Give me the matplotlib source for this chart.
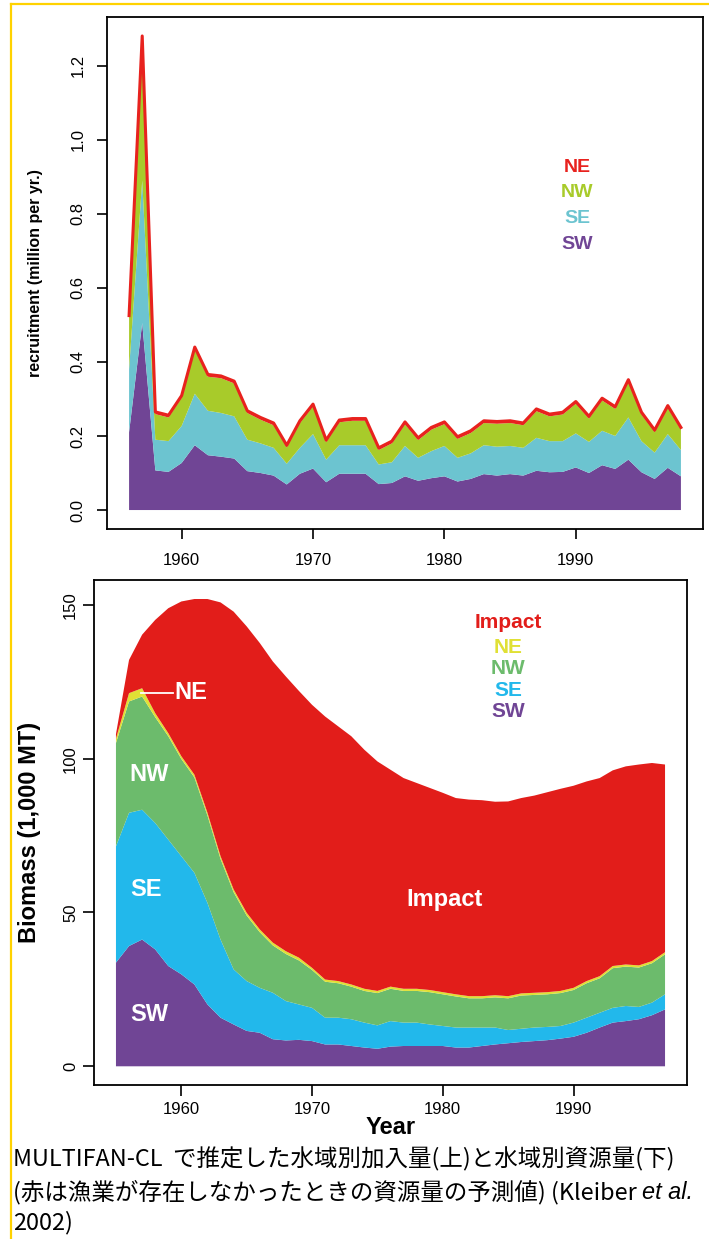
import numpy as np
import matplotlib
matplotlib.use('Agg')  # headless backend
import matplotlib.pyplot as plt
from matplotlib.lines import Line2D

plt.rcParams['font.family'] = ['Liberation Sans', 'Noto Sans CJK JP', 'DejaVu Sans']

# --- top panel: recruitment by region (million per yr.) ---
rec_years = list(range(1956, 1999))
rec_sw = [0.210, 0.505, 0.107, 0.103, 0.127, 0.175, 0.148, 0.144, 0.139, 0.105,
          0.100, 0.093, 0.069, 0.098, 0.112, 0.075, 0.098, 0.098, 0.098, 0.070,
          0.073, 0.091, 0.079, 0.086, 0.091, 0.077, 0.084, 0.097, 0.093, 0.097,
          0.093, 0.106, 0.102, 0.103, 0.115, 0.100, 0.121, 0.111, 0.136, 0.102,
          0.084, 0.114, 0.091]
rec_se = [0.170, 0.385, 0.083, 0.083, 0.100, 0.139, 0.120, 0.118, 0.114, 0.085,
          0.080, 0.075, 0.056, 0.070, 0.093, 0.061, 0.077, 0.077, 0.077, 0.053,
          0.056, 0.082, 0.062, 0.073, 0.082, 0.064, 0.069, 0.078, 0.078, 0.076,
          0.075, 0.089, 0.084, 0.083, 0.092, 0.084, 0.093, 0.089, 0.114, 0.084,
          0.071, 0.091, 0.071]
rec_nw = [0.139, 0.360, 0.069, 0.064, 0.076, 0.120, 0.092, 0.094, 0.089, 0.072,
          0.064, 0.061, 0.044, 0.067, 0.075, 0.047, 0.062, 0.066, 0.066, 0.039,
          0.051, 0.059, 0.048, 0.058, 0.059, 0.051, 0.055, 0.060, 0.062, 0.062,
          0.061, 0.072, 0.067, 0.072, 0.080, 0.063, 0.082, 0.073, 0.096, 0.072,
          0.055, 0.071, 0.055]
rec_ne = [0.006, 0.030, 0.006, 0.006, 0.006, 0.006, 0.006, 0.006, 0.006, 0.006,
          0.006, 0.006, 0.006, 0.006, 0.006, 0.006, 0.006, 0.006, 0.006, 0.006,
          0.006, 0.006, 0.006, 0.006, 0.006, 0.006, 0.006, 0.006, 0.006, 0.006,
          0.006, 0.006, 0.006, 0.006, 0.006, 0.006, 0.006, 0.006, 0.006, 0.006,
          0.006, 0.006, 0.006]
rec_labels = ['NE', 'NW', 'SE', 'SW']
rec_colors = {'SW': '#704595', 'SE': '#6CC4D0', 'NW': '#A8CB2A', 'NE': '#E8221E'}

# --- bottom panel: biomass by region (1,000 MT) ---
bio_years = list(range(1955, 1998))
bio_sw = [33.7, 39.1, 41.2, 38.0, 32.6, 29.9, 26.6, 20.1, 15.8, 13.6,
          11.5, 10.9, 8.8, 8.4, 8.6, 8.2, 7.1, 7.1, 6.6, 6.1,
          5.7, 6.4, 6.6, 6.6, 6.6, 6.6, 6.1, 6.1, 6.6, 7.1,
          7.5, 7.9, 8.2, 8.5, 9.0, 9.6, 10.9, 12.6, 14.2, 14.7,
          15.3, 16.6, 18.5]
bio_se = [37.8, 43.3, 42.2, 41.1, 41.1, 38.4, 36.3, 33.0, 25.4, 17.9,
          16.2, 14.6, 15.1, 12.8, 11.5, 10.8, 8.7, 8.7, 8.7, 8.1,
          7.6, 8.3, 7.6, 7.6, 7.0, 6.5, 6.5, 6.5, 6.0, 5.5,
          4.3, 4.3, 4.4, 4.3, 4.1, 4.6, 4.9, 4.8, 4.8, 4.9,
          4.0, 4.1, 4.9]
bio_nw = [33.6, 36.2, 36.8, 34.4, 33.6, 31.6, 31.0, 28.4, 26.2, 25.1,
          21.3, 18.1, 15.4, 15.3, 14.3, 12.3, 11.7, 11.2, 10.6, 10.3,
          10.5, 10.5, 10.3, 10.3, 10.5, 10.3, 10.1, 9.5, 9.5, 9.8,
          10.3, 10.8, 10.6, 10.6, 10.7, 10.6, 11.2, 11.2, 12.9, 12.8,
          12.8, 12.8, 13.0]
bio_ne = [1.4, 2.7, 2.7, 1.3, 1.0, 0.9, 0.9, 0.9, 0.9, 0.9,
          0.9, 0.9, 0.9, 0.9, 0.9, 0.7, 0.7, 0.7, 0.7, 0.7,
          0.7, 0.7, 0.7, 0.7, 0.7, 0.7, 0.7, 0.7, 0.7, 0.7,
          0.7, 0.7, 0.7, 0.7, 0.7, 0.7, 0.7, 0.7, 0.7, 0.7,
          0.7, 0.7, 0.7]
bio_impact = [1.5, 10.8, 17.4, 30.3, 40.6, 50.3, 57.1, 69.5, 82.5, 90.3,
              93.1, 93.1, 91.4, 89.3, 86.7, 85.5, 85.5, 82.8, 80.7, 77.7,
              74.6, 70.5, 68.5, 66.9, 65.7, 64.8, 63.8, 63.9, 63.7, 62.9,
              63.3, 63.5, 64.1, 65.0, 65.7, 65.7, 64.9, 64.4, 63.6, 64.4,
              65.3, 64.4, 61.0]
bio_labels = ['Impact', 'NE', 'NW', 'SE', 'SW']
bio_colors = {'SW': '#704595', 'SE': '#22B8EB', 'NW': '#6CBB6C',
              'NE': '#E0E035', 'Impact': '#E21D1A'}

caption1 = 'MULTIFAN-CL  で推定した水域別加入量(上)と水域別資源量(下)'
caption2a = '(赤は漁業が存在しなかったときの資源量の予測値) (Kleiber '
caption2b = 'et al.'
caption3 = '2002)'


def style_axes(ax, ticklen, ypad, xpad):
    for s in ax.spines.values():
        s.set_linewidth(1.3)
        s.set_color('black')
    ax.tick_params(direction='out', length=ticklen, width=1.2, labelsize=12)
    ax.tick_params(axis='y', pad=ypad)
    ax.tick_params(axis='x', pad=xpad)
    for lab in ax.get_yticklabels():
        lab.set_rotation(90)
        lab.set_va('center')


W, H = 709, 1239
fig = plt.figure(figsize=(W / 100, H / 100), dpi=100)
fig.patch.set_facecolor('white')

# top chart
ax1 = fig.add_axes([107 / W, 1 - 529 / H, 596 / W, 512 / H])
ax1.stackplot(rec_years, rec_sw, rec_se, rec_nw, rec_ne,
              colors=[rec_colors['SW'], rec_colors['SE'], rec_colors['NW'], rec_colors['NE']],
              linewidth=0)
rec_total = np.sum([rec_sw, rec_se, rec_nw, rec_ne], axis=0)
ax1.plot(rec_years, rec_total, color=rec_colors['NE'], lw=2.2)
ax1.set_xlim(1954.32, 1999.68)
ax1.set_ylim(-0.0512, 1.3312)
ax1.set_xticks([1960, 1970, 1980, 1990])
ax1.set_yticks([0.0, 0.2, 0.4, 0.6, 0.8, 1.0, 1.2])
ax1.set_yticklabels(['0.0', '0.2', '0.4', '0.6', '0.8', '1.0', '1.2'])
style_axes(ax1, 7.2, 8.4, 10)
ax1.set_ylabel('recruitment (million per yr.)', fontsize=11.5, fontweight='bold', labelpad=10)
ax1.yaxis.set_label_coords(-0.107, 0.5)
for i, lab in enumerate(rec_labels):
    ax1.text(0.789, 0.707 - i * 0.0502, lab, transform=ax1.transAxes,
             ha='center', va='center', fontsize=14, fontweight='bold',
             color=rec_colors[lab])

# bottom chart
ax2 = fig.add_axes([94 / W, 1 - 1085 / H, 593 / W, 505 / H])
ax2.stackplot(bio_years, bio_sw, bio_se, bio_nw, bio_ne, bio_impact,
              colors=[bio_colors['SW'], bio_colors['SE'], bio_colors['NW'],
                      bio_colors['NE'], bio_colors['Impact']],
              linewidth=0)
ax2.set_xlim(1953.32, 1998.68)
ax2.set_ylim(-6.08, 158.08)
ax2.set_xticks([1960, 1970, 1980, 1990])
ax2.set_yticks([0, 50, 100, 150])
style_axes(ax2, 8, 3.5, 4)
ax2.set_ylabel('Biomass (1,000 MT)', fontsize=17, fontweight='bold')
ax2.yaxis.set_label_coords(-0.09, 0.5)
ax2.set_xlabel('Year', fontsize=17, fontweight='bold', labelpad=0)
ax2.xaxis.set_label_coords(0.5, -0.062)

# labels inside the stacked areas
ax2.plot([1956.95, 1959.37], [121.4, 121.4], color='white', lw=1.3)
ax2.text(1959.45, 121.4, 'NE', color='white', fontsize=17, fontweight='bold', va='center')
ax2.text(1956.05, 94.8, 'NW', color='white', fontsize=17, fontweight='bold', va='center')
ax2.text(1956.1, 57.5, 'SE', color='white', fontsize=17, fontweight='bold', va='center')
ax2.text(1956.1, 16.9, 'SW', color='white', fontsize=17, fontweight='bold', va='center')
ax2.text(1977.2, 54.2, 'Impact', color='white', fontsize=17, fontweight='bold', va='center')

bio_leg_y = [0.915, 0.866, 0.825, 0.782, 0.739]
for lab, yy in zip(bio_labels, bio_leg_y):
    ax2.text(0.698, yy, lab, transform=ax2.transAxes, ha='center', va='center',
             fontsize=15, fontweight='bold', color=bio_colors[lab])

# yellow frame
frame = '#FFD200'
fig.add_artist(Line2D([11 / W, 1], [1 - 4 / H, 1 - 4 / H], color=frame, lw=1.6))
fig.add_artist(Line2D([11 / W, 11 / W], [0, 1 - 4 / H], color=frame, lw=1.6))

# caption
cap_font = ['Noto Sans CJK JP', 'DejaVu Sans']
cap_size = 16.9
fig.text(13 / W, 1 - 1166 / H, caption1, fontsize=cap_size, family=cap_font, va='baseline')
t2 = fig.text(13 / W, 1 - 1199 / H, caption2a, fontsize=cap_size, family=cap_font, va='baseline')
renderer = fig.canvas.get_renderer()
bb = t2.get_window_extent(renderer=renderer)
fig.text(bb.x1 / fig.bbox.width, 1 - 1199 / H, caption2b, fontsize=cap_size,
         family=['Liberation Sans'], style='italic', va='baseline')
fig.text(13 / W, 1 - 1229 / H, caption3, fontsize=cap_size, family=cap_font, va='baseline')

fig.savefig('out.png', dpi=100)
